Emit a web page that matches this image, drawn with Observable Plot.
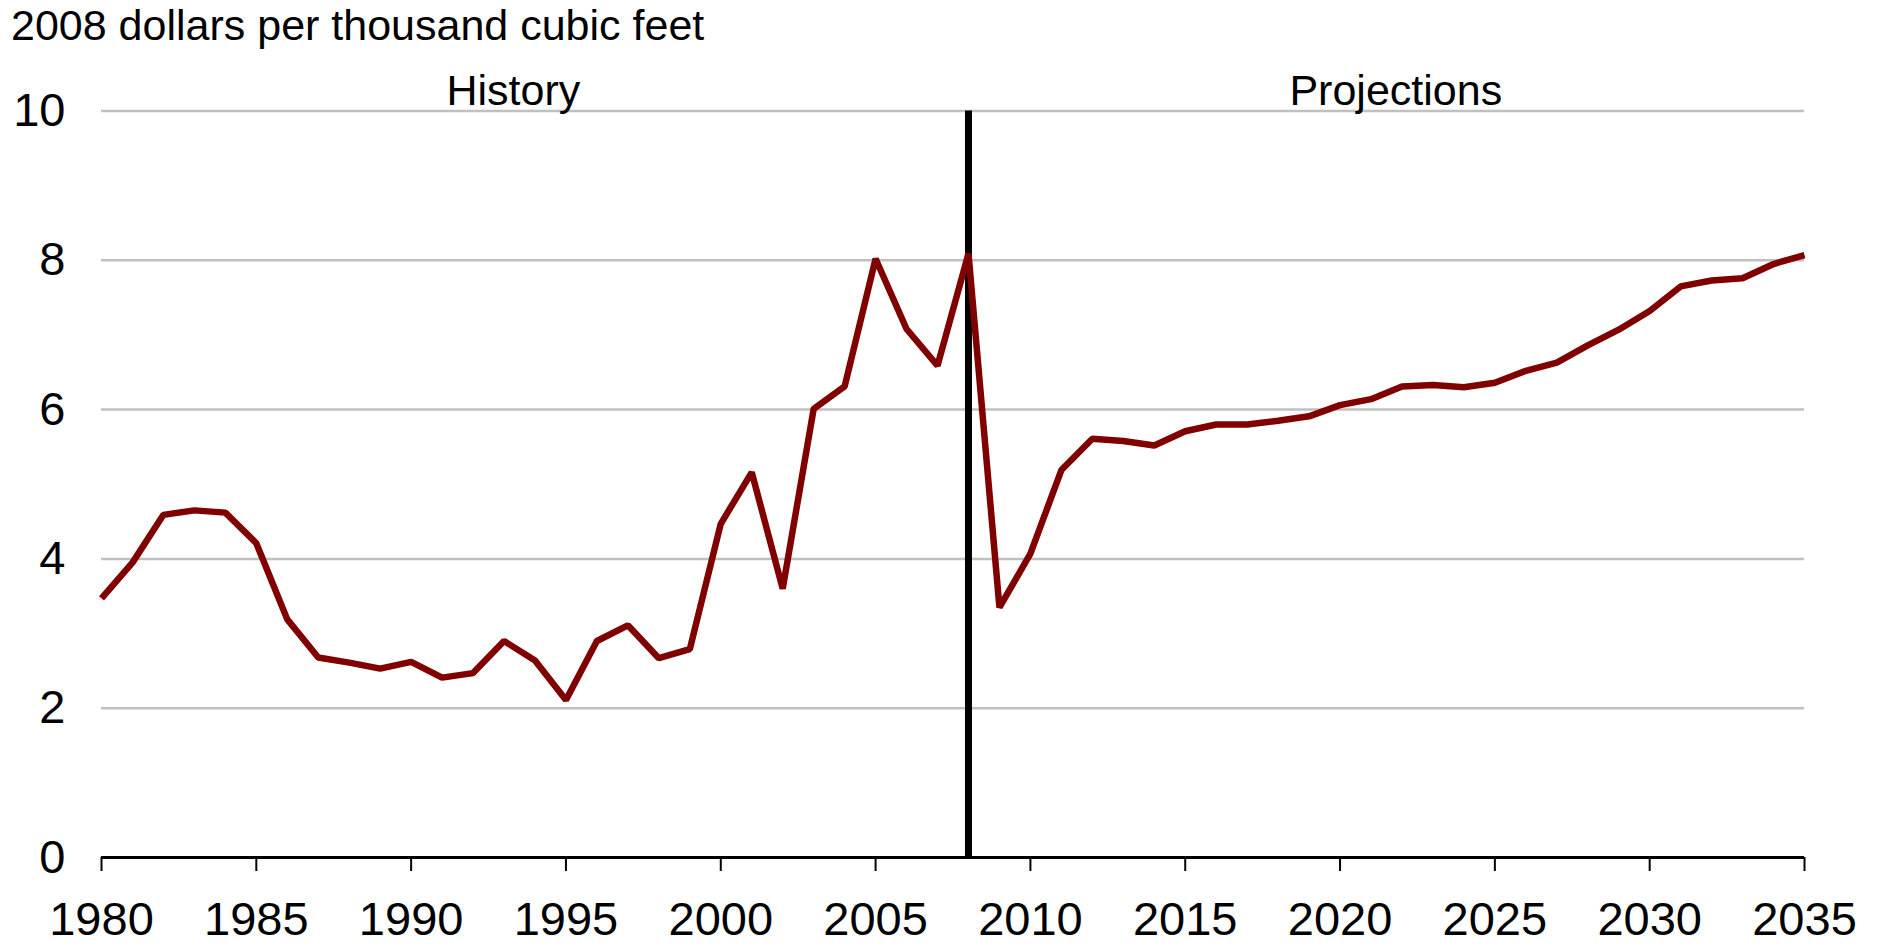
<!DOCTYPE html>
<html>
<head>
<meta charset="utf-8">
<script src="https://cdn.jsdelivr.net/npm/d3@7"></script>
<script src="https://cdn.jsdelivr.net/npm/@observablehq/plot@0.6"></script>
<style>
  html, body { margin: 0; padding: 0; background: #fff; }
  body { width: 1881px; height: 947px; overflow: hidden; font-family: "Liberation Sans", Arial, sans-serif; }
  #title { height: 50px; line-height: 50px; font-size: 43px; padding-left: 11px; color: #000; white-space: nowrap; }
  #chart svg { display: block; }
</style>
</head>
<body>
<div id="title">2008 dollars per thousand cubic feet</div>
<div id="chart"></div>
<script>
const years = d3.range(1980, 2036);
const values = [
  3.47, 3.95, 4.59, 4.65, 4.62, 4.21, 3.19, 2.68, 2.61, 2.53,
  2.62, 2.41, 2.47, 2.90, 2.64, 2.11, 2.90, 3.11, 2.67, 2.79,
  4.47, 5.16, 3.60, 6.01, 6.31, 8.02, 7.08, 6.59, 8.09, 3.35,
  4.07, 5.19, 5.61, 5.58, 5.52, 5.71, 5.80, 5.80, 5.85, 5.91,
  6.06, 6.14, 6.31, 6.33, 6.30, 6.36, 6.52, 6.63, 6.86, 7.07,
  7.32, 7.65, 7.73, 7.76, 7.95, 8.07
];
const xTicks = [1980, 1985, 1990, 1995, 2000, 2005, 2010, 2015, 2020, 2025, 2030, 2035];
const yTicks = [0, 2, 4, 6, 8, 10];
const gridValues = [2, 4, 6, 8, 10];
const dividerYear = [2008];
const sectionLabels = ["History", "Projections"];
const sectionLabelYears = [1993.3, 2021.8];

const data = years.map((year, i) => ({year, value: values[i]}));
const labels = sectionLabels.map((text, i) => ({text, year: sectionLabelYears[i]}));

const chart = Plot.plot({
  width: 1881,
  height: 897,
  marginLeft: 101,
  marginRight: 77,
  marginTop: 60.5,
  marginBottom: 90,
  style: {fontFamily: "'Liberation Sans', Arial, sans-serif", fontSize: "47px", color: "#000", background: "#fff"},
  x: {domain: [1980, 2035]},
  y: {domain: [0, 10]},
  marks: [
    Plot.ruleY(gridValues, {stroke: "#c0c0c0", strokeWidth: 2.5}),
    Plot.ruleX(dividerYear, {y1: 0, y2: 10, stroke: "#000", strokeWidth: 7}),
    Plot.lineY(data, {x: "year", y: "value", stroke: "#800000", strokeWidth: 6.5, strokeLinejoin: "miter", strokeLinecap: "butt"}),
    Plot.ruleY([0], {stroke: "#000", strokeWidth: 3}),
    Plot.axisX({ticks: xTicks, tickFormat: d => String(d), tickSize: 14, tickPadding: 30, strokeWidth: 2, fontSize: 47, label: null}),
    Plot.axisY({ticks: yTicks, tickSize: 0, tickPadding: 36, fontSize: 47, label: null}),
    Plot.text(labels, {x: "year", y: () => 10, text: "text", fontSize: 43, lineAnchor: "bottom", dy: -6, fill: "#000"})
  ]
});
document.getElementById("chart").appendChild(chart);
</script>
</body>
</html>
